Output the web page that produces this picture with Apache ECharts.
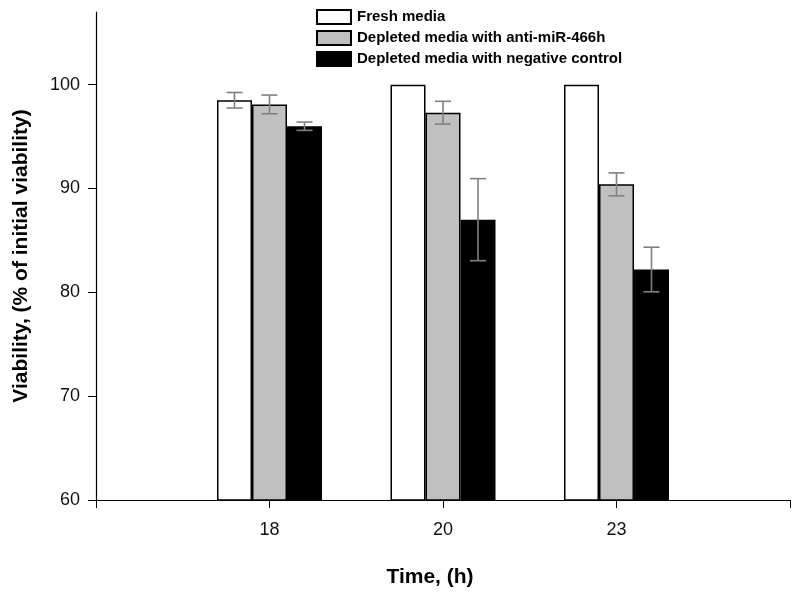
<!DOCTYPE html>
<html>
<head>
<meta charset="utf-8">
<script src="https://cdn.jsdelivr.net/npm/echarts@6/dist/echarts.min.js"></script>
<style>
  html, body { margin: 0; padding: 0; background: #fff; }
  #main { width: 800px; height: 598px; }
</style>
</head>
<body>
<div id="main"></div>
<script>
// time points (h)
const times = ['18', '20', '23'];
const yTicks = [60, 70, 80, 90, 100];

// viability means
const fresh = [98.5, 100, 100];
const antiMiR = [98.1, 97.3, 90.4];
const negCtrl = [96.0, 87.0, 82.2];

// error (+/-)
const freshErr = [0.75, 0, 0];
const antiMiRErr = [0.9, 1.1, 1.1];
const negCtrlErr = [0.4, 3.95, 2.15];

const names = [
  'Fresh media',
  'Depleted media with anti-miR-466h',
  'Depleted media with negative control'
];

// pad categories so ticks sit at each end of the axis
const cats = [''].concat(times, ['']);
const pad = arr => [null].concat(arr, [null]);

const barW = 35;

function errData(means, errs, k) {
  const out = [];
  means.forEach((m, i) => {
    if (errs[i] > 0) out.push([i + 1, m - errs[i], m + errs[i], k]);
  });
  return out;
}

const chart = echarts.init(document.getElementById('main'));

const bar = (name, vals, color) => ({
  name: name,
  type: 'bar',
  data: pad(vals),
  barWidth: barW,
  barGap: '0%',
  itemStyle: { color: color, borderColor: '#000', borderWidth: 1.5 },
  emphasis: { disabled: true }
});

const option = {
  animation: false,
  backgroundColor: '#fff',
  grid: { left: 96, right: 10, top: 12, bottom: 98 },
  legend: {
    orient: 'vertical',
    left: 311,
    top: 4,
    icon: 'rect',
    itemWidth: 34,
    itemHeight: 14,
    itemGap: 5,
    data: names,
    textStyle: {
      fontFamily: 'Liberation Sans, Arial, sans-serif',
      fontWeight: 'bold',
      fontSize: 15,
      lineHeight: 14,
      color: '#000',
      padding: [0, 0, 0, 1]
    }
  },
  xAxis: {
    type: 'category',
    data: cats,
    boundaryGap: false,
    name: 'Time, (h)',
    nameLocation: 'middle',
    nameGap: 67,
    nameTextStyle: {
      fontFamily: 'Liberation Sans, Arial, sans-serif',
      fontWeight: 'bold',
      fontSize: 21,
      color: '#000',
      padding: [0, 26, 0, 0]
    },
    axisLine: { lineStyle: { color: '#000', width: 1.2 } },
    axisTick: { length: 8, lineStyle: { color: '#000', width: 1 } },
    axisLabel: {
      margin: 21,
      fontFamily: 'Liberation Sans, Arial, sans-serif',
      fontSize: 18,
      color: '#111'
    },
    splitLine: { show: false }
  },
  yAxis: {
    type: 'value',
    min: 60,
    max: 107,
    name: 'Viability, (% of initial viability)',
    nameLocation: 'middle',
    nameGap: 64,
    nameTextStyle: {
      fontFamily: 'Liberation Sans, Arial, sans-serif',
      fontWeight: 'bold',
      fontSize: 21,
      color: '#000'
    },
    axisLine: { show: true, lineStyle: { color: '#000', width: 1.2 } },
    axisTick: { show: true, length: 8, customValues: yTicks, lineStyle: { color: '#000', width: 1 } },
    axisLabel: {
      customValues: yTicks,
      margin: 16,
      fontFamily: 'Liberation Sans, Arial, sans-serif',
      fontSize: 18,
      color: '#111'
    },
    splitLine: { show: false }
  },
  series: [
    bar(names[0], fresh, '#ffffff'),
    bar(names[1], antiMiR, '#c0c0c0'),
    bar(names[2], negCtrl, '#000000'),
    {
      type: 'custom',
      z: 10,
      silent: true,
      data: [].concat(
        errData(fresh, freshErr, -1),
        errData(antiMiR, antiMiRErr, 0),
        errData(negCtrl, negCtrlErr, 1)
      ),
      renderItem: function (params, api) {
        const lo = api.coord([api.value(0), api.value(1)]);
        const hi = api.coord([api.value(0), api.value(2)]);
        const x = lo[0] + api.value(3) * barW;
        const cap = 8;
        const style = { stroke: '#808080', lineWidth: 1.6 };
        return {
          type: 'group',
          children: [
            { type: 'line', shape: { x1: x, y1: lo[1], x2: x, y2: hi[1] }, style: style },
            { type: 'line', shape: { x1: x - cap, y1: lo[1], x2: x + cap, y2: lo[1] }, style: style },
            { type: 'line', shape: { x1: x - cap, y1: hi[1], x2: x + cap, y2: hi[1] }, style: style }
          ]
        };
      }
    }
  ]
};

chart.setOption(option);
</script>
</body>
</html>
